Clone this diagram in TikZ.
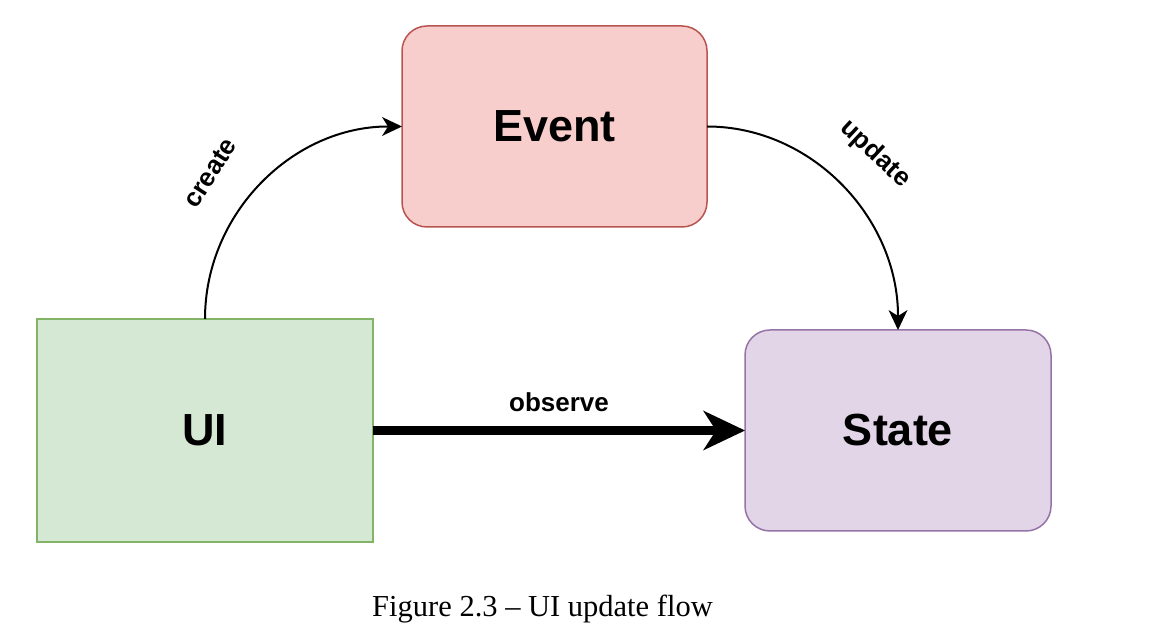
\documentclass[tikz,border=0pt]{standalone}
\usepackage{fontspec}
\setmainfont{Liberation Sans}
\newfontfamily\capfont{Liberation Serif}
\usetikzlibrary{arrows.meta}
\definecolor{evfill}{HTML}{F8CECC}
\definecolor{evline}{HTML}{B85450}
\definecolor{uifill}{HTML}{D5E8D4}
\definecolor{uiline}{HTML}{82B366}
\definecolor{stfill}{HTML}{E1D5E7}
\definecolor{stline}{HTML}{9673A6}
\tikzset{
  box/.style={draw, line width=1.5pt, inner sep=0pt, outer sep=0pt,
    font=\fontsize{45}{54}\selectfont\bfseries},
  conn/.style={line width=2pt, -{Stealth[length=20pt,width=19pt,inset=6pt,line width=0pt]}},
  lbl/.style={font=\fontsize{26}{31}\selectfont\bfseries, inner sep=0pt},
}
\begin{document}
\begin{tikzpicture}[x=1pt,y=1pt]
\useasboundingbox (0,0) rectangle (1151,639);
\node[box, fill=evfill, draw=evline, rounded corners=25pt, minimum width=305pt, minimum height=201pt] (Event) at (554.5,512.5) {Event};
\node[box, fill=uifill, draw=uiline, minimum width=336pt, minimum height=223pt] (UI) at (205,208.5) {UI};
\node[box, fill=stfill, draw=stline, rounded corners=25pt, minimum width=306pt, minimum height=201pt] (State) at (898,208.5) {State};
\draw[conn] (UI.north) .. controls +(0,106) and +(-109,0) .. (Event.west);
\draw[conn] (Event.east) .. controls +(105,0) and +(0,112) .. (State.north);
\draw[line width=9pt, -{Stealth[length=42pt,width=40pt,inset=13pt,line width=0pt]}] (UI.east) -- (State.west);
\node[lbl, rotate=57] (lcreate) at (210,466) {create};
\node[lbl, rotate=-43] (lupdate) at (875,485) {update};
\node[lbl] (lobserve) at (559,237) {observe};
\node[anchor=base, inner sep=0pt, font=\capfont\fontsize{30.5}{36}\selectfont] (cap) at (542.5,22) {Figure 2.3 – UI update flow};
\end{tikzpicture}
\end{document}
